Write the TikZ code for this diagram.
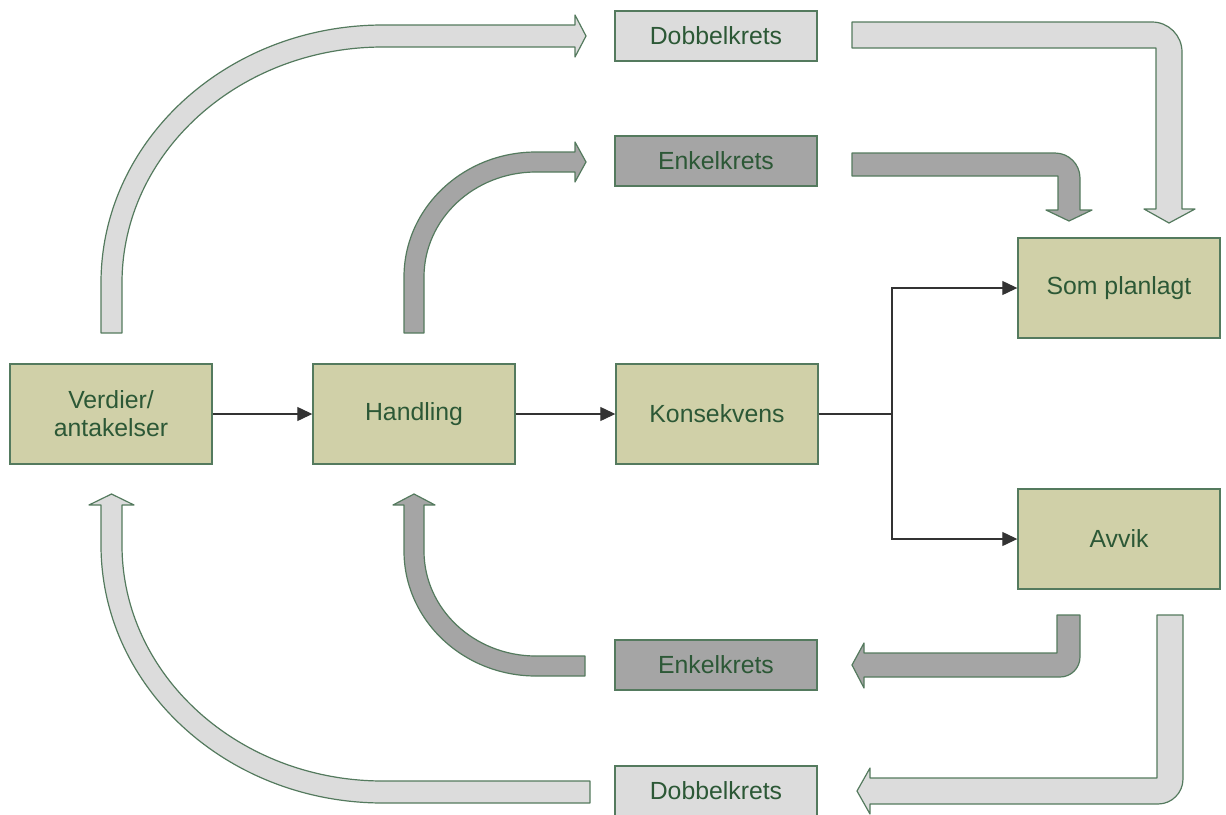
\documentclass[tikz,border=0pt]{standalone}
\usepackage{fontspec}
\setmainfont{Liberation Sans}
\usetikzlibrary{arrows.meta,positioning}
\definecolor{boxtan}{RGB}{208,208,168}
\definecolor{lightgrey}{RGB}{220,220,220}
\definecolor{darkgrey}{RGB}{165,165,165}
\definecolor{edgegreen}{RGB}{84,122,94}
\definecolor{textgreen}{RGB}{44,88,54}

\begin{document}
\begin{tikzpicture}[x=0.5pt, y=-0.5pt,
  >={Triangle[length=7.5pt,width=7pt]},
  every node/.style={font=\fontsize{12.4}{14}\selectfont, text=textgreen},
  stage/.style={draw=edgegreen, line width=0.7pt, fill=boxtan, minimum width=101pt,
                minimum height=50pt, align=center, inner sep=2pt},
  loopbox/.style={draw=edgegreen, line width=0.7pt, minimum width=101pt,
                  minimum height=25pt, inner sep=2pt},
  conn/.style={->, draw=black!80, line width=0.6pt},
  bigarrow/.style={draw=edgegreen, line width=0.6pt, line join=round}
]
  \useasboundingbox (0,0) rectangle (1226,814);

  % main chain
  \node[stage] (verdier) at (111,414) {Verdier/\\antakelser};
  \node[stage, right=49.8pt of verdier] (handling) {Handling};
  \node[stage, right=49.8pt of handling] (konsekvens) {Konsekvens};
  \node[stage] (somplan) at (1119,288) {Som planlagt};
  \node[stage] (avvik) at (1119,539) {Avvik};

  % the two loops, above and below
  \node[loopbox, fill=lightgrey] (dobbeltop) at (716,36) {Dobbelkrets};
  \node[loopbox, fill=darkgrey] (enkeltop) at (716,161) {Enkelkrets};
  \node[loopbox, fill=darkgrey] (enkelbot) at (716,665) {Enkelkrets};
  \node[loopbox, fill=lightgrey] (dobbelbot) at (716,791) {Dobbelkrets};

  \draw[conn] (verdier) -- (handling);
  \draw[conn] (handling) -- (konsekvens);
  \coordinate (split) at (892,414);
  \draw[draw=black!80, line width=0.6pt] (konsekvens) -- (split);
  \draw[conn] (split) |- (somplan);
  \draw[conn] (split) |- (avvik);

  % double loop, out of Verdier and back
  \draw[bigarrow, fill=lightgrey] (101,333) -- (101,283)
    arc[start angle=180, end angle=270, x radius=282, y radius=258]
    -- (575,25) -- (575,15) -- (586,36) -- (575,57) -- (575,47) -- (383,47)
    arc[start angle=270, end angle=180, x radius=261, y radius=236]
    -- (122,333) -- cycle;
  \draw[bigarrow, fill=lightgrey] (852,22) -- (1152,22)
    arc[start angle=270, end angle=360, radius=30]
    -- (1182,209) -- (1195,209) -- (1169,223) -- (1144,209) -- (1156,209)
    -- (1156,48) -- (852,48) -- cycle;
  \draw[bigarrow, fill=lightgrey] (1157,615) -- (1183,615) -- (1183,779)
    arc[start angle=0, end angle=90, radius=25]
    -- (870,804) -- (870,814) -- (857,791) -- (870,768) -- (870,778)
    -- (1157,778) -- cycle;
  \draw[bigarrow, fill=lightgrey] (590,781) -- (383,781)
    arc[start angle=90, end angle=180, x radius=261, y radius=236]
    -- (122,505) -- (134,505) -- (111.5,494) -- (89,505) -- (101,505) -- (101,545)
    arc[start angle=180, end angle=90, x radius=282, y radius=258]
    -- (590,803) -- cycle;

  % single loop, out of Handling and back
  \draw[bigarrow, fill=darkgrey] (404,333) -- (404,277)
    arc[start angle=180, end angle=270, x radius=132, y radius=125]
    -- (575,152) -- (575,142) -- (586,162) -- (575,182) -- (575,172) -- (536,172)
    arc[start angle=270, end angle=180, x radius=112, y radius=105]
    -- (424,333) -- cycle;
  \draw[bigarrow, fill=darkgrey] (852,153) -- (1055,153)
    arc[start angle=270, end angle=360, radius=25]
    -- (1080,210) -- (1092,210) -- (1069,221) -- (1046,210) -- (1058,210)
    -- (1058,176) -- (852,176) -- cycle;
  \draw[bigarrow, fill=darkgrey] (1057,615) -- (1080,615) -- (1080,657)
    arc[start angle=0, end angle=90, radius=20]
    -- (864,677) -- (864,688) -- (852,665) -- (864,643) -- (864,653)
    -- (1057,653) -- cycle;
  \draw[bigarrow, fill=darkgrey] (585,656) -- (536,656)
    arc[start angle=90, end angle=180, x radius=112, y radius=105]
    -- (424,505) -- (435,505) -- (414,494) -- (393,505) -- (404,505) -- (404,551)
    arc[start angle=180, end angle=90, x radius=132, y radius=125]
    -- (585,676) -- cycle;
\end{tikzpicture}
\end{document}
